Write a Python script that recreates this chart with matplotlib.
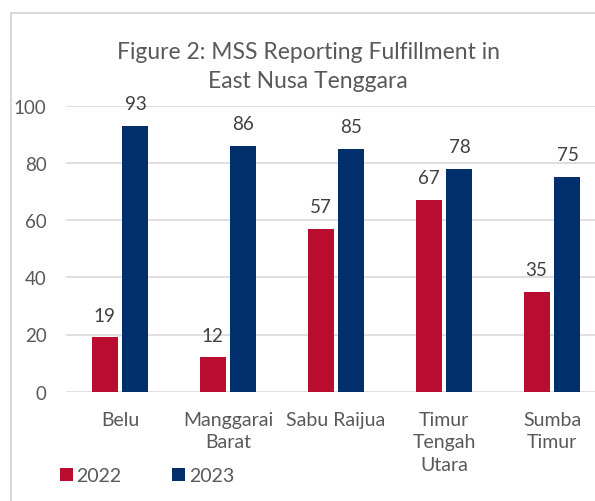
import matplotlib.pyplot as plt
from matplotlib.patches import Rectangle
import numpy as np

regions = ["Belu", "Manggarai\nBarat", "Sabu Raijua", "Timur\nTengah\nUtara", "Sumba\nTimur"]
values_2022 = [19, 12, 57, 67, 35]
values_2023 = [93, 86, 85, 78, 75]
y_ticks = [0, 20, 40, 60, 80, 100]

RED = "#BA0C2F"
NAVY = "#002F6C"
GRID = "#D9D9D9"
TEXT = "#595959"

plt.rcParams["font.family"] = ["Lato", "DejaVu Sans"]

W, H = 595, 502
fig = plt.figure(figsize=(W / 100, H / 100), dpi=100)

# outer chart frame (cropped on the right and bottom)
fig.patches.append(Rectangle((11 / W, -0.1), 1.2, 1 - 14.3 / H + 0.1,
                             transform=fig.transFigure, fill=False,
                             edgecolor=GRID, linewidth=1.5))

ax = fig.add_axes([66 / W, 109.3 / H, 540 / W, 286 / H])

x = np.arange(len(regions))
w = 0.24
off = 0.143
b1 = ax.bar(x - off, values_2022, w, color=RED, label="2022", zorder=3)
b2 = ax.bar(x + off, values_2023, w, color=NAVY, label="2023", zorder=3)

for bars, vals in ((b1, values_2022), (b2, values_2023)):
    for rect, v in zip(bars, vals):
        ax.annotate(str(v), (rect.get_x() + rect.get_width() / 2, v),
                    xytext=(0, 16), textcoords="offset points",
                    ha="center", va="center", fontsize=13.5, color="#404040")

ax.set_xlim(-0.5, 4.5)
ax.set_ylim(0, 100)
ax.set_yticks(y_ticks)
ax.set_xticks(x)
ax.set_xticklabels(regions, fontsize=14, color=TEXT, linespacing=1.37)
ax.tick_params(axis="y", labelsize=13.5, labelcolor=TEXT, length=0, pad=14)
ax.tick_params(axis="x", length=0, pad=14)
ax.yaxis.grid(True, color=GRID, linewidth=1.2, zorder=0)
for s in ax.spines.values():
    s.set_visible(False)

fig.text(308 / W, 1 - 67 / H, "Figure 2: MSS Reporting Fulfillment in\nEast Nusa Tenggara",
         ha="center", va="center", fontsize=16.5, color=TEXT, linespacing=1.45)

fig.legend(handles=[b1, b2], loc="center left", bbox_to_anchor=(60 / W, 1 - 477 / H),
           ncol=2, frameon=False, fontsize=14, labelcolor=TEXT,
           handlelength=0.65, handleheight=0.65, handletextpad=0.2,
           columnspacing=2.6, borderpad=0, borderaxespad=0)

fig.savefig("out.png", dpi=100)
